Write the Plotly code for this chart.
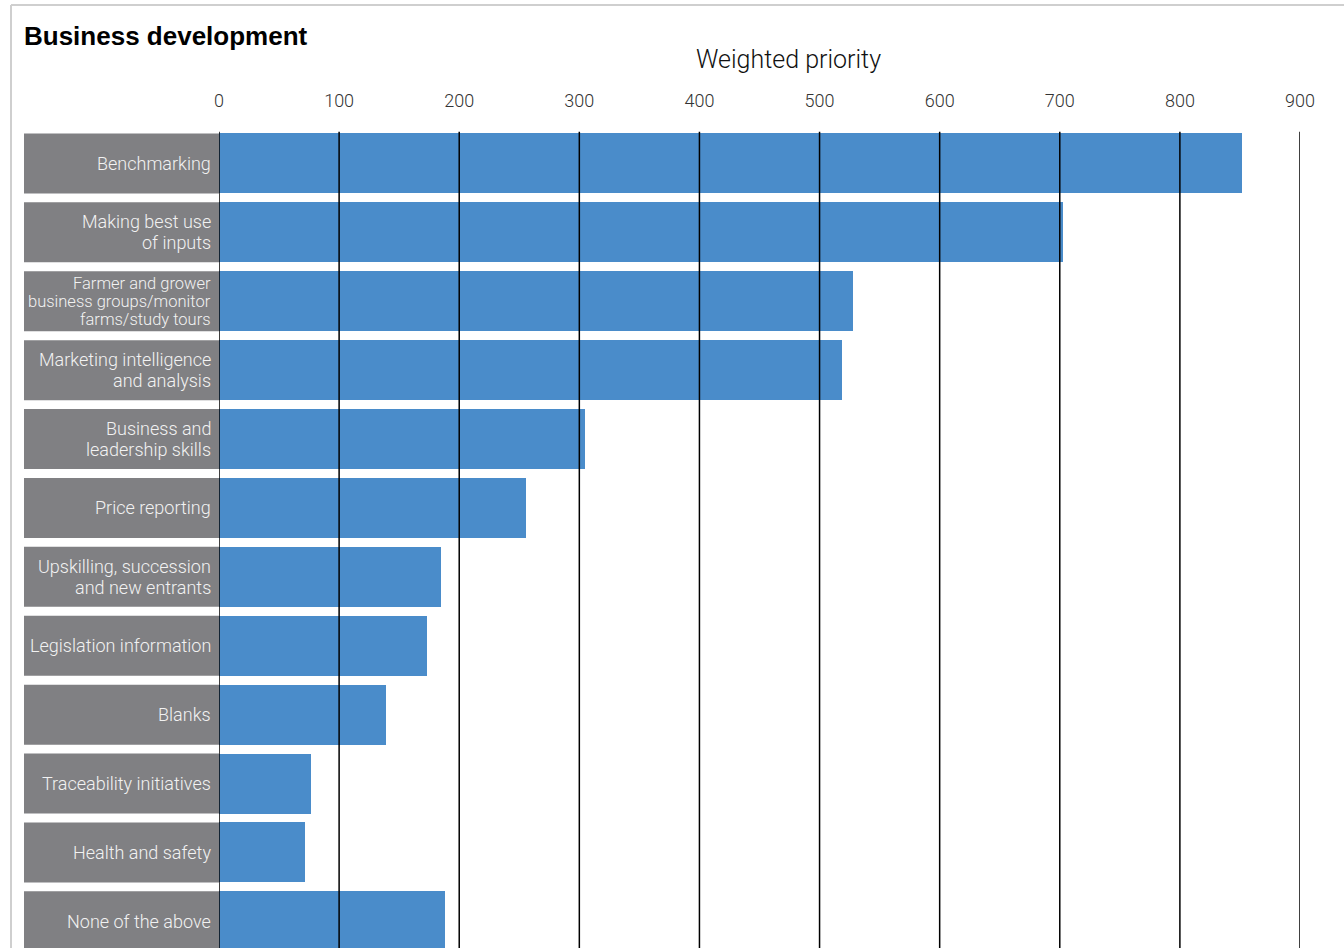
import plotly.graph_objects as go

categories = [
    "Benchmarking",
    "Making best use<br>of inputs",
    "Farmer and grower<br>business groups/monitor<br>farms/study tours",
    "Marketing intelligence<br>and analysis",
    "Business and<br>leadership skills",
    "Price reporting",
    "Upskilling, succession<br>and new entrants",
    "Legislation information",
    "Blanks",
    "Traceability initiatives",
    "Health and safety",
    "None of the above",
]
values = [852, 703, 528, 519, 305, 256, 185, 173, 139, 77, 72, 188]
tick_values = [0, 100, 200, 300, 400, 500, 600, 700, 800, 900]

W, H = 1344, 948
ML, MR, MT, MB = 219, 44, 129, 0
PW, PH = W - ML - MR, H - MT - MB
PITCH = 68.9
y_bottom = -0.5 + PH / PITCH

def px_x(p):
    return (p - ML) / PW

def px_y(p):
    return (H - MB - p) / PH

ypos = list(range(len(categories)))
BAR_W = 60 / PITCH

fig = go.Figure()
fig.add_trace(go.Bar(
    x=values, y=ypos, orientation="h", width=BAR_W,
    marker=dict(color="#4a8cca", line=dict(width=0)),
    hoverinfo="x",
))

shapes = []
annotations = []
LABEL_FONT = "Roboto"
for i, lab in enumerate(categories):
    shapes.append(dict(type="rect", xref="paper", yref="y",
                       x0=px_x(24), x1=0, y0=i - BAR_W / 2, y1=i + BAR_W / 2,
                       fillcolor="#808083", line=dict(width=0), layer="below"))
    lines = lab.split("<br>")
    n = len(lines)
    if n == 3:
        spacing, fs = 18, 16.5
    else:
        spacing, fs = 21, 18
    for k, ln in enumerate(lines):
        shift = ((n - 1) / 2 - k) * spacing
        annotations.append(dict(text=ln, xref="paper", yref="y",
                                x=px_x(213), y=i, yshift=shift,
                                xanchor="right", yanchor="middle", showarrow=False,
                                font=dict(family=LABEL_FONT, size=fs, color="#f2f2f2", weight=300)))

for v in tick_values:
    shapes.append(dict(type="line", xref="x", yref="y", x0=v, x1=v,
                       y0=-0.46, y1=y_bottom, line=dict(color="#000000", width=1.5),
                       layer="above"))

# border
shapes.append(dict(type="line", xref="paper", yref="paper", x0=px_x(11), x1=px_x(W + 5),
                   y0=px_y(5), y1=px_y(5), line=dict(color="#cfcfcf", width=2)))
shapes.append(dict(type="line", xref="paper", yref="paper", x0=px_x(11), x1=px_x(11),
                   y0=px_y(5), y1=px_y(H + 5), line=dict(color="#cfcfcf", width=2)))

annotations.append(dict(text="<b>Business development</b>", xref="paper", yref="paper",
                        x=px_x(22), y=px_y(36), xanchor="left", yanchor="middle",
                        showarrow=False, font=dict(family="Liberation Sans", size=26, color="#000000")))
annotations.append(dict(text="Weighted priority", xref="paper", yref="paper",
                        x=px_x(788), y=px_y(59), xanchor="center", yanchor="middle",
                        showarrow=False, font=dict(family=LABEL_FONT, size=25, color="#111111", weight=300)))

fig.update_layout(
    width=W, height=H,
    margin=dict(l=ML, r=MR, t=MT, b=MB, pad=0),
    paper_bgcolor="white", plot_bgcolor="white",
    showlegend=False,
    shapes=shapes, annotations=annotations,
    xaxis=dict(range=[0, 900], side="top", tickvals=tick_values, showgrid=False,
               zeroline=False, showline=False, ticks="", ticklabelstandoff=17,
               tickfont=dict(family=LABEL_FONT, size=18, color="#333333", weight=300),
               fixedrange=True),
    yaxis=dict(range=[y_bottom, -0.5], showticklabels=False, showgrid=False,
               zeroline=False, showline=False, ticks="", fixedrange=True),
    bargap=0,
)

fig.write_html("out.html")
